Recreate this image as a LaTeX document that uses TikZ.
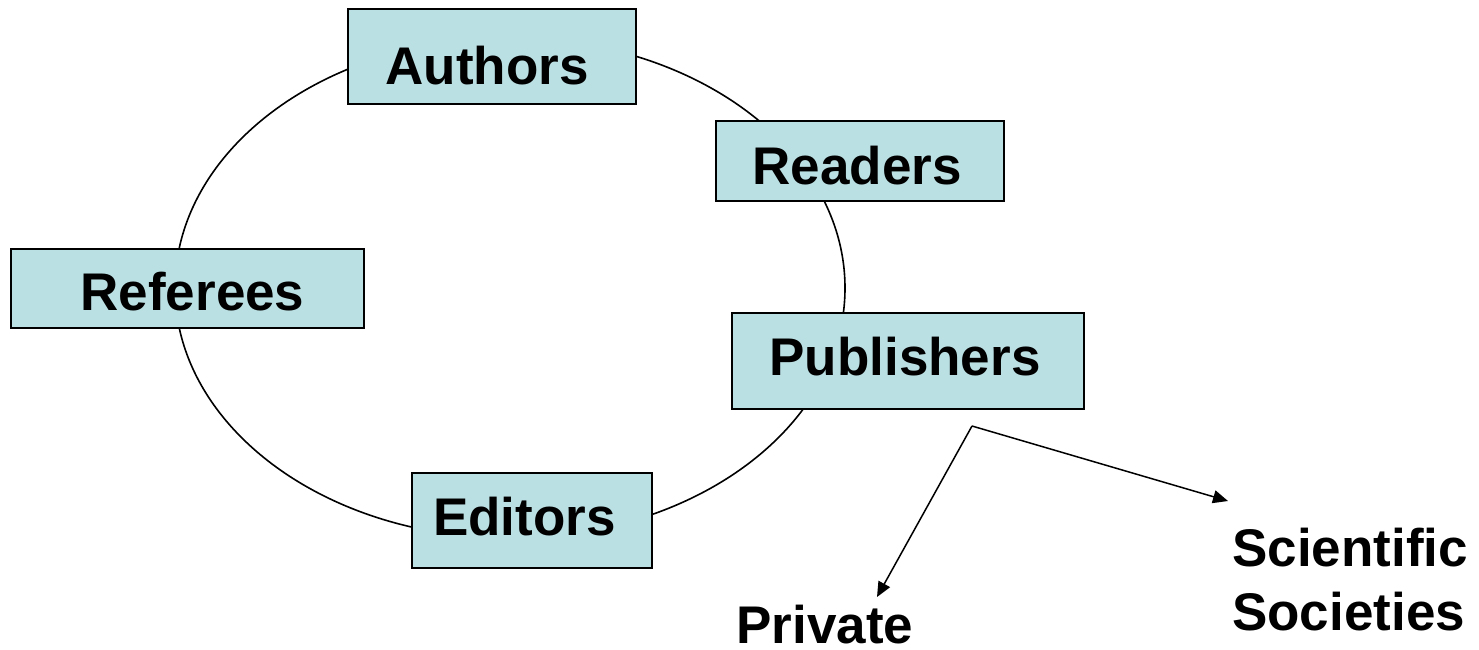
\documentclass[tikz,border=0pt]{standalone}
\usepackage{fontspec}
\setmainfont{Liberation Sans}
\usetikzlibrary{arrows.meta}
\definecolor{boxfill}{RGB}{187,224,227}
\begin{document}
\begin{tikzpicture}[x=1pt,y=-1pt,
  actor/.style={draw=black,line width=1.6pt,fill=boxfill,rectangle,inner sep=0pt,
    text height=38pt,text depth=0pt,
    font=\fontsize{53}{64}\selectfont\bfseries},
  label/.style={inner sep=0pt,font=\fontsize{53}{64}\selectfont\bfseries},
  flow/.style={line width=1.5pt,-{Triangle[length=15pt,width=13pt]}}]
\useasboundingbox (0,0) rectangle (1479,649);
\draw[line width=1.6pt] (510,288) ellipse [x radius=335, y radius=250];
\node[actor,minimum width=288pt,minimum height=95pt] (authors) at (492,56.5) {\raisebox{-9pt}{Authors}\hspace*{10pt}};
\node[actor,minimum width=288pt,minimum height=80pt] (readers) at (860,161) {\raisebox{-4pt}{Readers}\hspace*{6pt}};
\node[actor,minimum width=353pt,minimum height=79pt] (referees) at (187.5,288.5) {\hspace*{10pt}\raisebox{-3pt}{Referees}};
\node[actor,minimum width=352pt,minimum height=96pt] (publishers) at (908,361) {\raisebox{5pt}{Publishers}\hspace*{6pt}};
\node[actor,minimum width=240pt,minimum height=95pt] (editors) at (532,520.5) {\raisebox{4pt}{Editors}\hspace*{15pt}};
\coordinate (split) at (972,426);
\node[label,anchor=base] (private) at (825,643) {Private};
\node[label,anchor=north west,align=left] (societies) at (1232,528) {Scientific\\Societies};
\draw[flow] (split) -- (877,597);
\draw[flow] (split) -- (1228,501);
\end{tikzpicture}
\end{document}
